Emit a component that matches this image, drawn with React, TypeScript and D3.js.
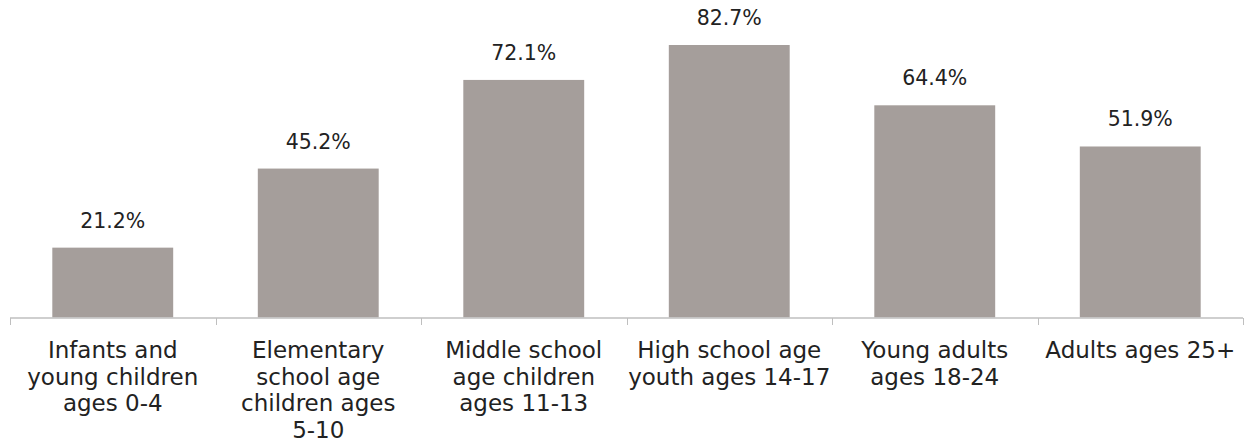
import React from "react";
import * as d3 from "d3";

const categories: string[][] = [
  ["Infants and", "young children", "ages 0-4"],
  ["Elementary", "school age", "children ages", "5-10"],
  ["Middle school", "age children", "ages 11-13"],
  ["High school age", "youth ages 14-17"],
  ["Young adults", "ages 18-24"],
  ["Adults ages 25+"],
];
const values: number[] = [21.2, 45.2, 72.1, 82.7, 64.4, 51.9];
const valueLabels: string[] = ["21.2%", "45.2%", "72.1%", "82.7%", "64.4%", "51.9%"];

const W = 1244;
const H = 447;
const FONT = "'DejaVu Sans', sans-serif";

export default function App() {
  const keys = categories.map((_, i) => String(i));
  const x = d3.scaleBand<string>().domain(keys).range([10, 1243]).paddingInner(0).paddingOuter(0);
  const y = d3.scaleLinear().domain([0, 100]).range([317.5, -12]);
  const bw = x.bandwidth() / 1.7;
  const ticks = d3.range(categories.length + 1).map((i) => 10 + i * x.bandwidth());
  return (
    <svg width={W} height={H} style={{ position: "absolute", left: 0, top: 0, background: "#fff" }}>
      {values.map((v, i) => {
        const cx = (x(String(i)) as number) + x.bandwidth() / 2;
        return (
          <g key={i}>
            <rect x={cx - bw / 2} y={y(v)} width={bw} height={y(0) - y(v)} fill="#A59E9B" />
            <text x={cx} y={y(v) - 20} textAnchor="middle" fontFamily={FONT} fontSize={20.5} fill="#222">
              {valueLabels[i]}
            </text>
            {categories[i].map((line, j) => (
              <text key={j} x={cx} y={358 + j * 26.5} textAnchor="middle" fontFamily={FONT} fontSize={23} fill="#222">
                {line}
              </text>
            ))}
          </g>
        );
      })}
      <line x1={10} x2={1243} y1={318} y2={318} stroke="#BFBFBF" strokeWidth={1.5} />
      {ticks.map((t, i) => (
        <line key={i} x1={Math.round(t) + 0.5} x2={Math.round(t) + 0.5} y1={318} y2={325} stroke="#BFBFBF" strokeWidth={1} />
      ))}
    </svg>
  );
}
